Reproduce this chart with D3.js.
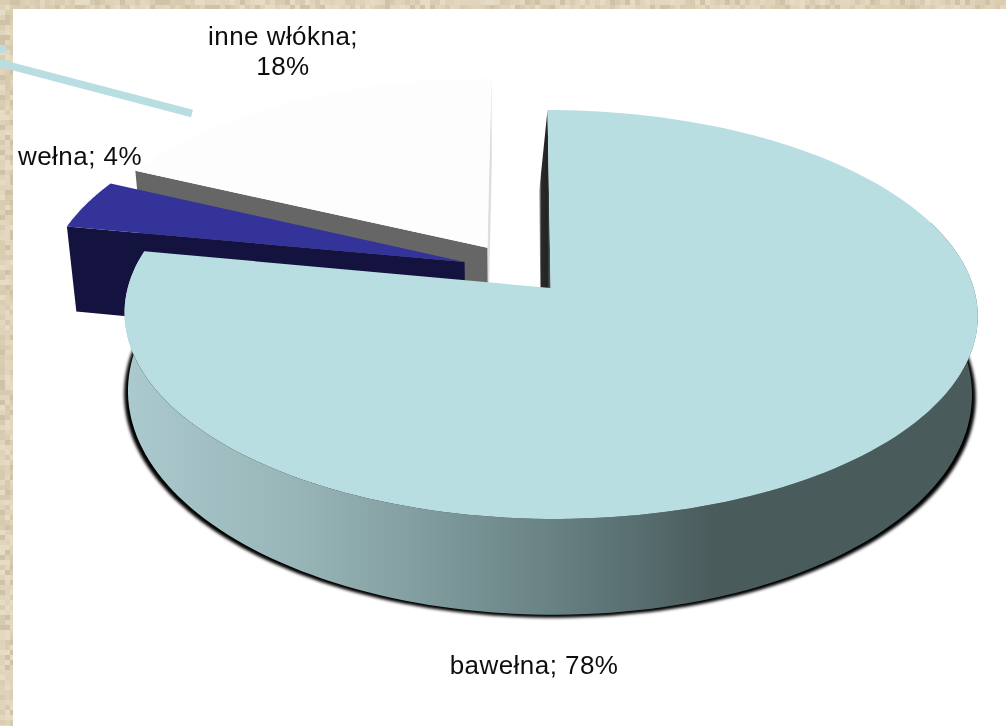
<!DOCTYPE html>
<html><head><meta charset="utf-8">
<script src="https://cdn.jsdelivr.net/npm/d3@7"></script>
<style>html,body{margin:0;padding:0;background:#fff}svg{display:block}text{font-family:"Liberation Sans",Arial,sans-serif;fill:#111}</style>
</head><body><svg id="c" width="1006" height="726"></svg>
<script>
// Data
const categories = ["bawełna", "wełna", "inne włókna"];
const values = [78, 4, 18];
const labelLines = [["bawełna; 78%"], ["wełna; 4%"], ["inne włókna;", "18%"]];
const topColors = ["#b8dee1", "#333399", "#fdfdfd"];
const cutColors = ["#33393a", "#14123f", "#666666"];
const wallStops = [[0,"#abcacd"],[0.2,"#98b5b8"],[0.33,"#84a0a2"],[0.46,"#6f898b"],[0.58,"#5b7274"],[0.69,"#4a5b5b"],[1,"#4a5b5b"]];
const tilePalette = ["#e3d8bf","#dacdb2","#d6cab0","#e6dcc6","#cfc2a6","#ded2b9","#e0d5bc"];

// 3D layout: model coords -> screen
const view = {x0:523, y0:288, cx:26, B:423, A:201, k:0.1296};
const sideDepth = {m:0.022, D:89, lean:0, sx:1};
const cutDepth = {m:0.022, D:89, lean:-9, sx:1};
const wallDepth = {m:-0.033, D:72.6, lean:-2, sx:0.956};
const explode = [[0.004,0],[-0.202,0.1316],[-0.148,0.205]];
const labelPos = [[534,674],[80,165],[283,45]];
const leader = {p:[[-6,61.5],[192,113.5]], dot:[2.5,49]};

const project = (X,Y,Z=0,dp=sideDepth)=>{
  const z=Z?1:0;
  const d = 1+view.k*Y+dp.m*z;
  return [view.x0+(view.B*X*(z?dp.sx:1)+view.cx+dp.lean*z)/d, view.y0+(-view.A*Y+dp.D*z)/d];
};

const svg = d3.select("#c");
const defs = svg.append("defs");
const line = d3.line();

// tiled backdrop
const tileG = svg.append("g");
const tile = 5;
const tiles = [];
for (let i=0;i*tile<1006;i++) for(let j=0;j*tile<9;j++) tiles.push([i,j]);
for (let j=2;j*tile<726;j++) for(let i=0;i*tile<13;i++) tiles.push([i,j]);
tileG.selectAll("rect").data(tiles).join("rect")
  .attr("x",d=>d[0]*tile).attr("y",d=>d[1]*tile).attr("width",tile).attr("height",tile)
  .attr("fill",d=>{
    let h=(Math.imul(d[0]+1,73856093)^Math.imul(d[1]+1,19349663))>>>0;
    h=(h^(h>>>13))>>>0;
    return tilePalette[h%tilePalette.length];
  });
svg.append("rect").attr("x",13).attr("y",9).attr("width",993).attr("height",717).attr("fill","#fff");

// filters and gradient
const sh = defs.append("filter").attr("id","sh").attr("x","-5%").attr("y","-5%").attr("width","110%").attr("height","110%");
sh.append("feGaussianBlur").attr("stdDeviation",1.8);
const tb = defs.append("filter").attr("id","tb");
tb.append("feGaussianBlur").attr("stdDeviation",0.35);
const wg = defs.append("linearGradient").attr("id","wall").attr("gradientUnits","userSpaceOnUse")
  .attr("x1",125).attr("x2",978).attr("y1",0).attr("y2",0);
wallStops.forEach(s=>wg.append("stop").attr("offset",s[0]).attr("stop-color",s[1]));
const cg = defs.append("linearGradient").attr("id","cut").attr("x1",0).attr("x2",1).attr("y1",0).attr("y2",0);
[[0,"#b5b5b5"],[0.2,"#2a2a2a"],[0.7,"#222"],[1,"#54686a"]].forEach(s=>cg.append("stop").attr("offset",s[0]).attr("stop-color",s[1]));

// pie geometry from the values
const pie = d3.pie().sort(null).value(d=>d)(values);
const rim = (s,i,Z,dp)=>{
  const [ox,oy]=explode[i];
  return d3.range(0,181).map(t=>{
    const a=s.startAngle+(s.endAngle-s.startAngle)*t/180;
    return project(ox+Math.sin(a),oy+Math.cos(a),Z,dp);
  });
};
const spoke = (i,a,Z,R=1,dp)=>{
  const [ox,oy]=explode[i];
  return project(ox+R*Math.sin(a),oy+R*Math.cos(a),Z,dp);
};
const cutFace = (i,a,dp)=>[spoke(i,a,0,0,dp),spoke(i,a,0,1,dp),spoke(i,a,1,1,dp),spoke(i,a,1,0,dp)];
const topFace = (s,i)=>[spoke(i,0,0,0),...rim(s,i,0)];

// leader line
svg.append("path").attr("d",line(leader.p)).attr("stroke","#b8dee1").attr("stroke-width",7.5).attr("fill","none");
svg.append("circle").attr("cx",leader.dot[0]).attr("cy",leader.dot[1]).attr("r",4).attr("fill","#b8dee1");

// other fibres
svg.append("path").attr("d",line(cutFace(2,pie[2].endAngle))+"Z").attr("fill","#dedede");
svg.append("path").attr("d",line(cutFace(2,pie[2].startAngle))+"Z").attr("fill",cutColors[2]);
svg.append("path").attr("d",line(topFace(pie[2],2))+"Z").attr("fill",topColors[2]);
// wool
svg.append("path").attr("d",line(cutFace(1,pie[1].startAngle))+"Z").attr("fill",cutColors[1]);
svg.append("path").attr("d",line(topFace(pie[1],1))+"Z").attr("fill",topColors[1]);
// cotton
svg.append("path").attr("d",line(cutFace(0,pie[0].startAngle,cutDepth))+"Z").attr("fill","url(#cut)");
const bottom = rim(pie[0],0,1,wallDepth), top0 = rim(pie[0],0,0);
const frontOf = pts=>pts.slice(45);   // from about 70° round to the end of the slice
const shadow = frontOf(bottom).map(p=>[p[0]+(p[0]-550)*0.009,p[1]+3]);
svg.append("path").attr("d",line(shadow)+"Z").attr("fill","#000").attr("filter","url(#sh)");
svg.append("path").attr("d",line([...frontOf(top0),...frontOf(bottom).reverse()])+"Z").attr("fill","url(#wall)");
svg.append("path").attr("d",line(topFace(pie[0],0))+"Z").attr("fill",topColors[0]);

// labels
labelLines.forEach((ls,i)=>{
  const t=svg.append("text").attr("text-anchor","middle").attr("font-size",26).attr("letter-spacing",0.45).attr("filter","url(#tb)")
    .attr("x",labelPos[i][0]).attr("y",labelPos[i][1]);
  ls.forEach((s,j)=>t.append("tspan").attr("x",labelPos[i][0]).attr("dy",j?30:0).text(s));
});
</script></body></html>
